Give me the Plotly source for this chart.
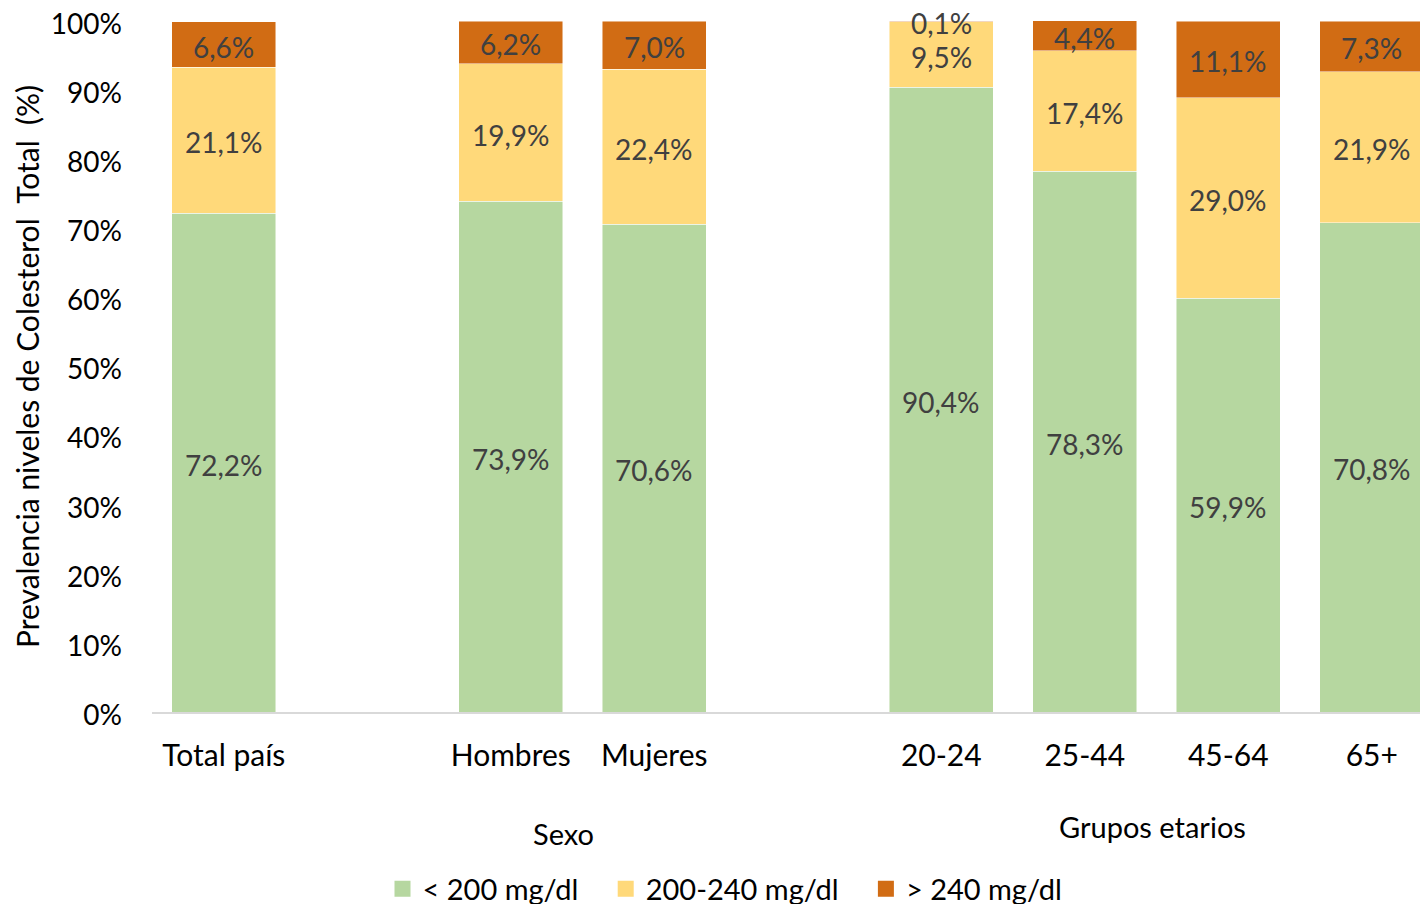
import plotly.graph_objects as go

categories = ["Total país", "", "Hombres", "Mujeres", "", "20-24", "25-44", "45-64", "65+"]
low = [72.2, None, 73.9, 70.6, None, 90.4, 78.3, 59.9, 70.8]
mid = [21.1, None, 19.9, 22.4, None, 9.5, 17.4, 29.0, 21.9]
high = [6.6, None, 6.2, 7.0, None, 0.1, 4.4, 11.1, 7.3]
series_names = ["< 200 mg/dl", "200-240 mg/dl", "> 240 mg/dl"]
colors = ["#B6D7A0", "#FFD97A", "#D16C14"]
group_labels = ["Sexo", "Grupos etarios"]
y_title = "Prevalencia niveles de Colesterol  Total  (%)"

FONT = "Lato"
OFF = 8  # page body margin
W, H = 1428 - OFF, 904 - OFF
L, R, T = 152 - OFF, 0, 21 - OFF
B = H - (712 - OFF)
PW, PH = W - L - R, H - T - B

x = list(range(len(categories)))

def fmt(v):
    return f"{v:.1f}".replace(".", ",") + "%"

def py(pix):
    # screen pixel row -> paper y
    return (712 - pix) / PH

def px(pix):
    # screen pixel column -> paper x
    return (pix - 152) / PW

fig = go.Figure()
series = [low, mid, high]
for k, (name, vals, col) in enumerate(zip(series_names, series, colors)):
    fig.add_trace(go.Bar(
        x=x, y=vals, name=name, showlegend=False,
        marker=dict(color=col, line=dict(color="rgba(255,255,255,0.6)", width=0.8)),
        width=0.725, hoverinfo="skip",
    ))
    pad = "\u00a0" * 3 if k < len(series_names) - 1 else ""
    fig.add_trace(go.Scatter(
        x=[None], y=[None], mode="markers", name=name + pad,
        marker=dict(symbol="square", size=17, color=col), showlegend=True,
    ))

base = [0.0] * len(categories)
for vals in series:
    for i, v in enumerate(vals):
        if v is None:
            continue
        fig.add_annotation(x=i, y=base[i] + v / 2, xref="x", yref="y",
                           text=fmt(v), showarrow=False, yshift=-2,
                           font=dict(family=FONT, size=28, color="#404040"))
        base[i] += v

fig.update_layout(
    barmode="stack",
    width=W, height=H,
    margin=dict(l=L, r=R, t=T, b=B, autoexpand=False),
    plot_bgcolor="white", paper_bgcolor="white",
    font=dict(family=FONT, size=28, color="black"),
    showlegend=True,
    legend=dict(orientation="h", x=px(725), xanchor="center",
                y=py(889), yref="paper", yanchor="middle",
                font=dict(family=FONT, size=29, color="black"),
                itemwidth=30, traceorder="normal",
                bgcolor="rgba(0,0,0,0)"),
)

fig.update_xaxes(
    range=[-0.5, 8.392], tickmode="array", tickvals=x, ticktext=categories,
    showline=True, linecolor="#D9D9D9", linewidth=1.5, showgrid=False,
    ticks="", ticklabelstandoff=16, tickfont=dict(family=FONT, size=30, color="black"),
    zeroline=False, automargin=False,
)
fig.update_yaxes(
    range=[0, 100.01], tickvals=list(range(0, 101, 10)),
    ticktext=[f"{v}%" for v in range(0, 101, 10)],
    showgrid=False, zeroline=False, showline=False, ticks="",
    ticklabelstandoff=29, ticklabeloverflow="allow", ticklabelshift=3,
    tickfont=dict(family=FONT, size=28, color="black"),
    automargin=False,
)

fig.add_annotation(x=px(27), xref="paper", y=py(367), yref="paper",
                   xanchor="center", yanchor="middle", textangle=-90,
                   text=y_title, showarrow=False,
                   font=dict(family=FONT, size=30, color="black"))

fig.add_annotation(x=px(563), xref="paper", y=py(833), yref="paper",
                   xanchor="center", yanchor="middle",
                   text=group_labels[0], showarrow=False,
                   font=dict(family=FONT, size=29, color="black"))
fig.add_annotation(x=px(1152), xref="paper", y=py(826), yref="paper",
                   xanchor="center", yanchor="middle",
                   text=group_labels[1], showarrow=False,
                   font=dict(family=FONT, size=29, color="black"))

fig.write_html("out.html")
